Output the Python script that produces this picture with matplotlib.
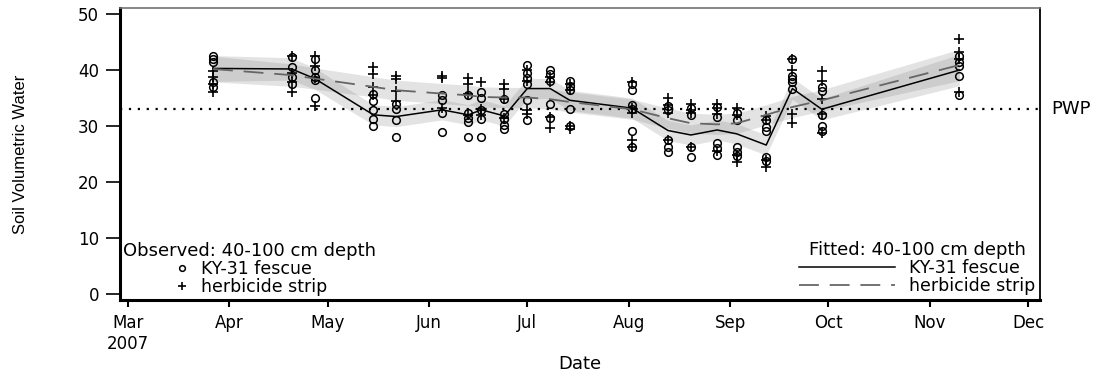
import numpy as np
import pandas as pd
import matplotlib
matplotlib.use('Agg')
import matplotlib.pyplot as plt

plt.rcParams['font.family'] = ['DejaVu Sans']

# observation dates (2007)
obs_dates = ['2007-03-27', '2007-04-20', '2007-04-27', '2007-05-15', '2007-05-22',
             '2007-06-05', '2007-06-13', '2007-06-17', '2007-06-24', '2007-07-01',
             '2007-07-08', '2007-07-14', '2007-08-02', '2007-08-13', '2007-08-20',
             '2007-08-28', '2007-09-03', '2007-09-12', '2007-09-20', '2007-09-29',
             '2007-11-10']

# observed soil water, 40-100 cm depth
obs_fescue = [
    [42.6, 42.0, 41.4, 37.8, 37.0],
    [42.3, 40.5, 38.8, 37.6],
    [42.0, 40.0, 38.8, 38.3, 35.0],
    [35.8, 34.5, 32.8, 31.2, 30.0],
    [34.0, 33.0, 31.0, 28.0],
    [35.5, 34.6, 32.3, 29.0],
    [35.5, 32.3, 31.5, 30.8, 28.0],
    [36.0, 35.0, 32.8, 31.3, 28.0],
    [34.8, 32.2, 31.3, 30.2, 29.4],
    [41.0, 39.4, 38.5, 37.6, 34.6, 31.0],
    [40.0, 39.3, 38.0, 34.0, 31.5],
    [38.0, 37.2, 36.4, 33.0, 30.0],
    [37.6, 36.5, 33.8, 33.0, 29.2, 26.2],
    [33.6, 32.9, 27.5, 26.3, 25.4],
    [33.2, 32.0, 26.3, 24.4],
    [33.4, 31.6, 26.9, 26.0, 24.8],
    [32.3, 31.0, 26.2, 25.4, 24.6],
    [31.0, 29.8, 29.2, 24.5, 23.8],
    [42.0, 39.0, 38.4, 37.8, 36.7],
    [37.0, 36.2, 32.0, 30.0, 29.2],
    [42.5, 41.5, 40.8, 39.0, 35.6],
]
obs_herb = [
    [39.8, 38.8, 37.6, 36.1],
    [42.5, 39.4, 37.9, 36.0],
    [42.6, 40.8, 38.5, 33.6],
    [40.5, 39.3, 37.0, 35.5],
    [39.0, 38.4, 36.2, 34.5],
    [39.0, 38.6, 33.2],
    [38.5, 37.6, 35.8, 32.0],
    [37.9, 33.0, 32.0],
    [37.6, 36.7, 34.8, 31.5],
    [40.0, 38.0, 32.8, 32.2],
    [38.8, 37.8, 31.6, 29.6],
    [37.5, 36.5, 30.0, 29.5],
    [37.8, 33.2, 32.3, 27.5, 26.2],
    [35.1, 33.8, 32.3, 27.5],
    [34.0, 32.8, 32.3, 26.3],
    [34.0, 33.2, 32.2, 25.5],
    [33.2, 32.0, 24.8, 23.6],
    [31.8, 31.0, 24.0, 22.6],
    [42.0, 40.0, 32.2, 30.6],
    [39.8, 38.0, 34.8, 32.2, 28.8],
    [45.5, 43.2, 42.0, 36.0],
]

# fitted means and half widths of the confidence bands
fit_fescue = [40.3, 40.2, 38.5, 32.0, 31.7, 32.9, 32.0, 32.9, 31.8, 36.7, 36.7,
              34.6, 33.2, 29.2, 28.4, 29.3, 28.6, 26.6, 36.7, 33.0, 40.0]
fit_herb = [40.2, 39.1, 38.5, 37.0, 36.4, 35.8, 35.5, 35.2, 35.1, 35.1, 34.8,
            34.3, 33.0, 31.4, 30.5, 30.3, 30.5, 32.0, 33.4, 34.6, 40.9]
ci_fescue = [2.3, 2.0, 1.9, 1.8, 1.8, 1.8, 1.8, 1.8, 1.8, 1.8, 1.8,
             1.8, 1.8, 1.8, 1.8, 1.8, 1.8, 1.8, 1.9, 1.9, 2.8]
ci_herb = [2.3, 2.0, 1.9, 1.8, 1.8, 1.8, 1.8, 1.8, 1.8, 1.8, 1.8,
           1.8, 1.8, 1.8, 1.8, 1.8, 1.8, 1.8, 1.9, 1.9, 2.8]

pwp = 33
month_ticks = pd.date_range('2007-03-01', '2007-12-01', freq='MS')
month_labels = ['Mar\n2007', 'Apr', 'May', 'Jun', 'Jul', 'Aug', 'Sep', 'Oct', 'Nov', 'Dec']

dates = pd.to_datetime(obs_dates)
fit_fescue = np.array(fit_fescue)
fit_herb = np.array(fit_herb)
ci_fescue = np.array(ci_fescue)
ci_herb = np.array(ci_herb)

fig, ax = plt.subplots(figsize=(11.1, 3.81), dpi=100)
fig.subplots_adjust(left=0.108, right=0.937, bottom=0.213, top=0.979)

# confidence bands
ax.fill_between(dates, fit_fescue - ci_fescue, fit_fescue + ci_fescue,
                color='0.5', alpha=0.22, lw=0)
ax.fill_between(dates, fit_herb - ci_herb, fit_herb + ci_herb,
                color='0.5', alpha=0.22, lw=0)

# PWP reference line
ax.axhline(pwp, color='black', lw=1.6, ls=(0, (1, 3)))

# observations
xf = np.concatenate([[d] * len(v) for d, v in zip(dates, obs_fescue)])
yf = np.concatenate(obs_fescue)
xh = np.concatenate([[d] * len(v) for d, v in zip(dates, obs_herb)])
yh = np.concatenate(obs_herb)
pts_f, = ax.plot(xf, yf, 'o', ms=5.5, mfc='none', mec='black', mew=1.1,
                 label='KY-31 fescue')
pts_h, = ax.plot(xh, yh, '+', ms=7, mec='black', mew=1.2,
                 label='herbicide strip')

# fitted lines
line_f, = ax.plot(dates, fit_fescue, color='black', lw=1.1, label='KY-31 fescue')
line_h, = ax.plot(dates, fit_herb, color='0.4', lw=1.3, dashes=(11, 6),
                  label='herbicide strip')

ax.text(1.012, pwp, 'PWP', transform=ax.get_yaxis_transform(),
        ha='left', va='center', fontsize=13)

# axes
ax.set_xlim(pd.Timestamp('2007-02-26 13:00'), pd.Timestamp('2007-12-04 16:00'))
ax.set_ylim(-1.07, 51.1)
ax.set_yticks([0, 10, 20, 30, 40, 50])
ax.set_xticks(month_ticks)
ax.set_xticklabels(month_labels)
ax.tick_params(axis='y', length=10, width=1.2, pad=5, labelsize=12)
ax.tick_params(axis='x', length=5, width=1.5, pad=5, labelsize=12)
ax.spines['left'].set_linewidth(2.2)
ax.spines['bottom'].set_linewidth(2.2)
ax.spines['top'].set_linewidth(1.2)
ax.spines['top'].set_color('0.45')
ax.spines['right'].set_linewidth(1.3)

ax.set_ylabel('Soil Volumetric Water', fontfamily='Liberation Sans', fontsize=12)
ax.yaxis.set_label_coords(-0.1, 0.5)
ax.set_xlabel('Date', fontsize=13)
ax.xaxis.set_label_coords(0.5, -0.19)
ax.xaxis.label.set_va('top')

# legends inside the plot region
leg1 = ax.legend(handles=[pts_f, pts_h], title='Observed: 40-100 cm depth',
                 loc='lower left', frameon=False, fontsize=12.5, title_fontsize=13,
                 labelspacing=0.0, borderpad=0.1, borderaxespad=0.1,
                 handlelength=1.0, handletextpad=0.6, markerscale=0.75)
ax.add_artist(leg1)
ax.legend(handles=[line_f, line_h], title='Fitted: 40-100 cm depth',
          loc='lower right', frameon=False, fontsize=12.5, title_fontsize=13,
          labelspacing=0.0, borderpad=0.1, borderaxespad=0.2,
          handlelength=5.5, handletextpad=0.8)

plt.savefig('out.png', dpi=100)
